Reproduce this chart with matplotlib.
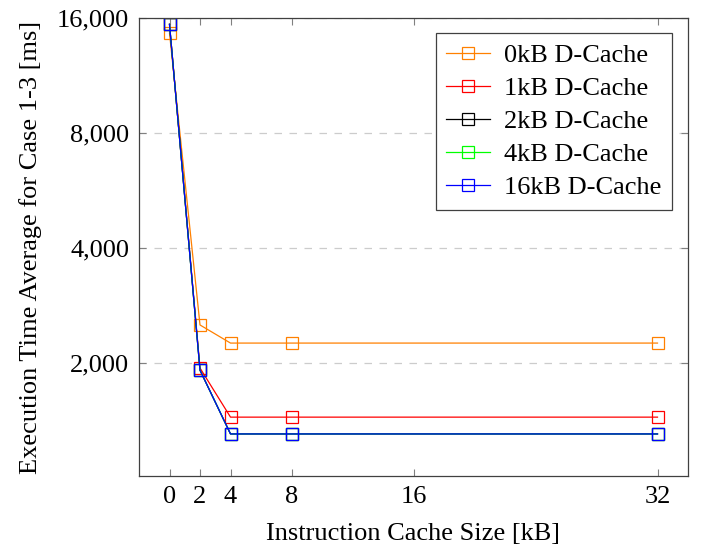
import matplotlib.pyplot as plt
from matplotlib.ticker import FixedLocator, FuncFormatter, NullLocator

plt.rcParams['font.family'] = ['Liberation Serif', 'DejaVu Serif']

# instruction cache sizes [kB]
icache = [0, 2, 4, 8, 32]

# execution time [ms] per data cache size
d0 = [14600, 2515, 2255, 2255, 2255]
d1 = [15400, 1940, 1443, 1443, 1443]
d2 = [15400, 1915, 1304, 1304, 1304]
d4 = [15400, 1915, 1304, 1304, 1304]
d16 = [15400, 1915, 1304, 1304, 1304]

labels = ["0kB D-Cache", "1kB D-Cache", "2kB D-Cache", "4kB D-Cache", "16kB D-Cache"]
colors = ["#ff8000", "#ff0000", "#000000", "#00ff00", "#0000ff"]
series = [d0, d1, d2, d4, d16]

xticks = [0, 2, 4, 8, 16, 32]
yticks = [2000, 4000, 8000, 16000]

fig = plt.figure(figsize=(7.01, 5.48), dpi=100)
ax = fig.add_axes([139/701, 1-476/548, (688-139)/701, (476-18)/548])

for ys, lab, c in zip(series, labels, colors):
    ax.plot(icache, ys, color=c, lw=0.9, marker='s', markersize=8,
            markerfacecolor='none', markeredgewidth=0.9, label=lab)

ax.set_yscale('log', base=2)
ax.set_ylim(1012, 16000)
ax.set_xlim(-2, 34)
ax.yaxis.set_major_locator(FixedLocator(yticks))
ax.yaxis.set_minor_locator(NullLocator())
ax.yaxis.set_major_formatter(FuncFormatter(lambda v, p: f"{int(v):,}"))
ax.set_xticks(xticks)
ax.set_xticklabels([str(t) for t in xticks])

ax.tick_params(direction='in', length=5, width=0.8, color='#808080',
               top=True, right=True, labelsize=19, pad=7)
ax.grid(axis='y', which='major', linestyle=(0, (6, 6)), color='#cccccc', lw=0.9)
for s in ax.spines.values():
    s.set_color('#404040')
    s.set_linewidth(0.9)

ax.set_xlabel("Instruction Cache Size [kB]", fontsize=19, labelpad=11)
ax.set_ylabel("Execution Time Average for Case 1-3 [ms]", fontsize=19, labelpad=11)

leg = ax.legend(loc='upper right', bbox_to_anchor=(0.971, 0.967), borderaxespad=0,
                fontsize=19, fancybox=False, framealpha=1, edgecolor='#404040',
                handlelength=1.65, handletextpad=0.55, borderpad=0.4, labelspacing=0.36)
leg.get_frame().set_linewidth(0.9)

fig.savefig("out.png", dpi=100)
